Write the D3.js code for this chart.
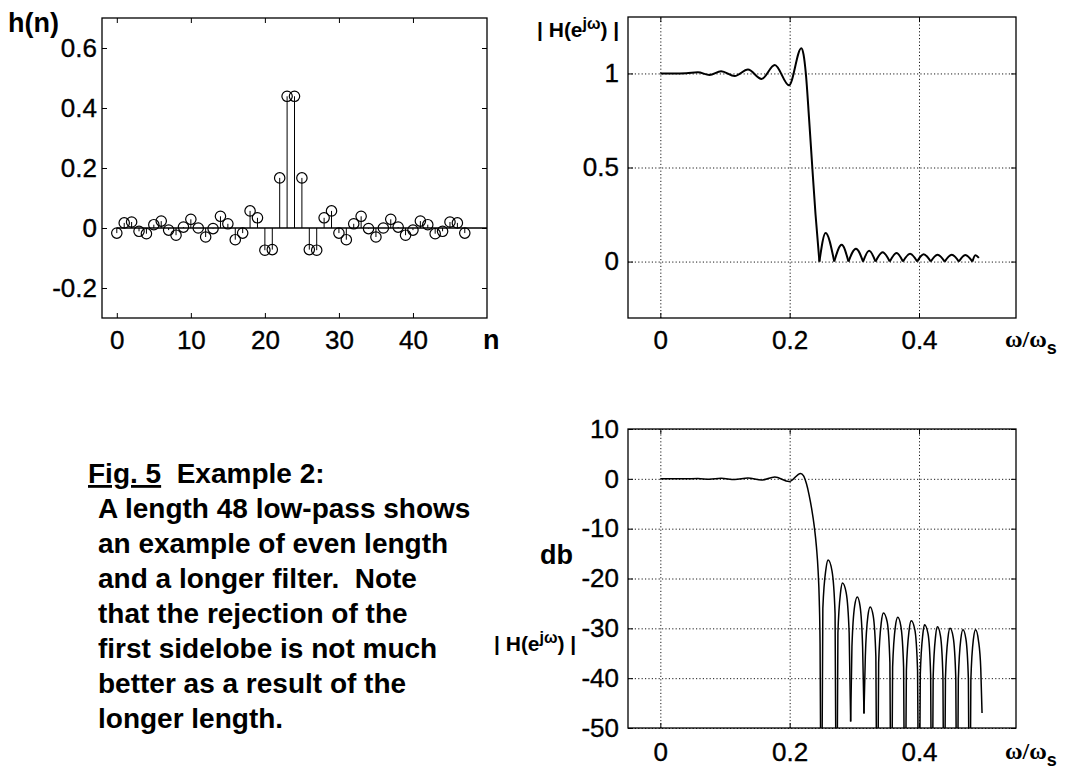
<!DOCTYPE html>
<html>
<head>
<meta charset="utf-8">
<script src="https://cdn.jsdelivr.net/npm/d3@7"></script>
<style>
  body { margin: 0; background: #fff; }
  text { white-space: pre; }
</style>
</head>
<body>
<svg id="fig" width="1070" height="771"></svg>
<script>
// ---- impulse response h(n) of the 48-tap low-pass ----
const nIndex = [0,1,2,3,4,5,6,7,8,9,10,11,12,13,14,15,16,17,18,19,20,21,22,23,
                24,25,26,27,28,29,30,31,32,33,34,35,36,37,38,39,40,41,42,43,44,45,46,47];
const hValues = [-0.017,0.017,0.020,-0.011,-0.019,0.011,0.023,-0.007,-0.024,0.003,0.029,0.000,
                 -0.030,-0.002,0.039,0.014,-0.039,-0.017,0.057,0.034,-0.074,-0.072,0.167,0.439,
                 0.439,0.167,-0.072,-0.074,0.034,0.057,-0.017,-0.039,0.014,0.039,-0.002,-0.030,
                 0.000,0.029,0.003,-0.024,-0.007,0.023,0.011,-0.019,-0.011,0.020,0.017,-0.017];
const hTicksX = [0,10,20,30,40];
const hTicksY = [-0.2,0,0.2,0.4,0.6];

// ---- magnitude response |H| (linear), nulls are exact zeros ----
const magOmega = [0,0.020,0.040,0.058,0.076,0.094,0.115,0.1355,0.1565,0.177,0.199,0.218,0.2215,0.225,0.230,0.235,0.240,0.2460,
                  0.2556,0.2689,0.2804,0.2909,0.3025,0.3135,0.3229,0.3328,0.3438,0.3548,0.3653,0.3752,0.3862,0.3972,
                  0.4072,0.4182,0.4287,0.4397,0.4507,0.4617,0.4716,0.4826,0.4871,0.4926];
const magValue = [1.000,1.000,1.001,1.006,0.992,1.012,0.986,1.021,0.971,1.045,0.937,1.134,1.100,1.000,0.760,0.500,0.250,0.000,
                  0.152,0.000,0.089,0.000,0.068,0.000,0.057,0.000,0.050,0.000,0.045,0.000,0.041,0.000,
                  0.039,0.000,0.036,0.000,0.036,0.000,0.035,0.000,0.034,0.020];
const magTicksX = [0,0.2,0.4];
const magTicksY = [0,0.5,1];

// ---- magnitude response in dB; -80 marks a null below the plotted range ----
const dbOmega = [0,0.020,0.040,0.058,0.076,0.094,0.115,0.1355,0.1565,0.177,0.199,0.217,0.2215,0.226,0.230,0.234,0.238,0.2415,0.2440,0.2458,0.2470,
                 0.2490,0.2513,0.2562,0.2595,0.2655,0.2702,
                 0.2725,0.2746,0.2788,0.2817,0.2873,0.2920,
                 0.2943,0.2963,0.3005,0.3046,0.3088,0.3128,
                 0.3149,0.3170,0.3210,0.3245,0.3292,0.3333,
                 0.3354,0.3376,0.3418,0.3450,0.3508,0.3550,
                 0.3571,0.3592,0.3635,0.3672,0.3720,0.3762,
                 0.3783,0.3805,0.3848,0.3880,0.3936,0.3978,
                 0.4000,0.4020,0.4060,0.4085,0.4140,0.4180,
                 0.4200,0.4219,0.4257,0.4285,0.4332,0.4370,
                 0.4389,0.4409,0.4449,0.4480,0.4529,0.4569,
                 0.4589,0.4608,0.4647,0.4680,0.4725,0.4764,
                 0.4783,0.4802,0.4842,0.4875,0.4920,0.4955,0.4975];
const dbValue = [0.00,0.00,0.01,0.05,-0.07,0.10,-0.12,0.18,-0.25,0.38,-0.56,1.09,0.60,-1.00,-3.20,-6.00,-9.50,-13.8,-18.5,-24.5,-33.0,
                 -80,-26.0,-18.0,-16.3,-18.5,-27.0,
                 -80,-31.0,-22.7,-20.9,-22.8,-31.0,
                 -48.7,-33.7,-25.5,-23.7,-25.5,-33.7,
                 -47.1,-35.7,-27.5,-25.7,-27.5,-35.7,
                 -80,-36.9,-28.7,-26.9,-28.7,-36.9,
                 -80,-37.8,-29.6,-27.8,-29.6,-37.8,
                 -80,-38.5,-30.3,-28.5,-30.3,-38.5,
                 -80,-39.3,-31.1,-29.3,-31.1,-39.3,
                 -80,-39.7,-31.5,-29.7,-31.5,-39.7,
                 -80,-40.0,-31.8,-30.0,-31.8,-40.0,
                 -80,-40.3,-32.1,-30.3,-32.1,-40.3,
                 -80,-40.3,-32.1,-30.3,-32.5,-38.0,-47.0];
const dbTicksX = [0,0.2,0.4];
const dbTicksY = [-50,-40,-30,-20,-10,0,10];

const bodyLines = ["A length 48 low-pass shows",
                   "an example of even length",
                   "and a longer filter.  Note",
                   "that the rejection of the",
                   "first sidelobe is not much",
                   "better as a result of the",
                   "longer length."];

const SANS = "'Liberation Sans', Arial, Helvetica, sans-serif";
const svg = d3.select("#fig");
const fmt = d => String(d);

// box with inward ticks on all four sides, optional dotted grid
function frame(x, y, tx, ty, grid, yPad, xPad) {
  const [x0, x1] = x.range(), [yb, yt] = y.range();
  const g = svg.append("g");
  if (grid) {
    const gg = g.append("g");
    gg.append("g").attr("transform", `translate(0,${yb})`)
      .call(d3.axisBottom(x).tickValues(tx).tickSize(-(yb - yt)).tickFormat(""));
    gg.append("g").attr("transform", `translate(${x0},0)`)
      .call(d3.axisLeft(y).tickValues(ty).tickSize(-(x1 - x0)).tickFormat(""));
    gg.selectAll(".domain").remove();
    gg.selectAll("line").attr("stroke", "#000").attr("stroke-width", 0.9)
      .attr("stroke-dasharray", "1.2,2.2");
  }
  const bottom = g.append("g").attr("transform", `translate(0,${yb})`)
    .call(d3.axisBottom(x).tickValues(tx).tickSizeInner(-5).tickSizeOuter(0).tickPadding(xPad).tickFormat(fmt));
  g.append("g").attr("transform", `translate(0,${yt})`)
    .call(d3.axisTop(x).tickValues(tx).tickSizeInner(-5).tickSizeOuter(0).tickFormat(""));
  const left = g.append("g").attr("transform", `translate(${x0},0)`)
    .call(d3.axisLeft(y).tickValues(ty).tickSizeInner(-5).tickSizeOuter(0).tickPadding(yPad).tickFormat(fmt));
  g.append("g").attr("transform", `translate(${x1},0)`)
    .call(d3.axisRight(y).tickValues(ty).tickSizeInner(-5).tickSizeOuter(0).tickFormat(""));
  g.selectAll(".domain").remove();
  g.selectAll(".tick line").attr("stroke", "#000");
  [bottom, left].forEach(a => a.selectAll("text")
    .attr("font-family", SANS).attr("font-size", 26).attr("fill", "#000")
    .attr("stroke", "#000").attr("stroke-width", 0.35));
  g.append("rect").attr("x", x0).attr("y", yt).attr("width", x1 - x0).attr("height", yb - yt)
    .attr("fill", "none").attr("stroke", "#000").attr("stroke-width", 1.3);
  return g;
}

// split a trace at its nulls so each lobe ends in a sharp cusp
function lobes(xs, ys, isNull) {
  const segs = [];
  let cur = [];
  xs.forEach((xv, i) => {
    cur.push([xv, ys[i]]);
    if (isNull(ys[i]) && cur.length > 1) { segs.push(cur); cur = [[xv, ys[i]]]; }
  });
  if (cur.length > 1) segs.push(cur);
  return segs;
}

// ---------- h(n) stem plot ----------
{
  const x = d3.scaleLinear([-2, 50], [102, 487]);
  const y = d3.scaleLinear([-0.3, 0.7], [318, 18]);
  frame(x, y, hTicksX, hTicksY, false, 5, 13);
  const g = svg.append("g");
  g.append("line").attr("x1", x(0)).attr("x2", x(50)).attr("y1", y(0)).attr("y2", y(0))
    .attr("stroke", "#000").attr("stroke-width", 1.3);
  g.selectAll("line.stem").data(nIndex).join("line").attr("class", "stem")
    .attr("x1", d => x(d)).attr("x2", d => x(d))
    .attr("y1", y(0)).attr("y2", (d, i) => y(hValues[i]))
    .attr("stroke", "#000").attr("stroke-width", 1);
  g.selectAll("circle").data(nIndex).join("circle")
    .attr("cx", d => x(d)).attr("cy", (d, i) => y(hValues[i])).attr("r", 5.2)
    .attr("fill", "none").attr("stroke", "#000").attr("stroke-width", 1.2);
  svg.append("text").attr("x", 8).attr("y", 32).text("h(n)")
    .attr("font-family", SANS).attr("font-weight", "bold").attr("font-size", 27);
  svg.append("text").attr("x", 483).attr("y", 349).text("n")
    .attr("font-family", SANS).attr("font-weight", "bold").attr("font-size", 27);
}

// |H(e^jw)| label built from tspans
function hLabel(xp, yp) {
  const t = svg.append("text").attr("x", xp).attr("y", yp)
    .attr("font-family", "'Liberation Sans Narrow', 'Liberation Sans', Arial, sans-serif")
    .attr("font-size", 21).attr("font-weight", "bold");
  t.append("tspan").text("| H(e");
  t.append("tspan").attr("dy", -8).attr("font-size", 16).text("jω");
  t.append("tspan").attr("dy", 8).text(") |");
}
// w/ws axis title
function wLabel(xp, yp) {
  const t = svg.append("text").attr("x", xp).attr("y", yp)
    .attr("font-family", "'Liberation Serif', 'Times New Roman', serif")
    .attr("font-size", 24).attr("font-weight", "bold");
  t.append("tspan").text("ω/ω");
  t.append("tspan").attr("dy", 7).attr("font-size", 18).attr("font-family", SANS).text("s");
}

// ---------- linear magnitude ----------
{
  const x = d3.scaleLinear([-0.05, 0.55], [628, 1016]);
  const y = d3.scaleLinear([-0.3, 1.3], [318, 17]);
  frame(x, y, magTicksX, magTicksY, true, 9, 13);
  const line = d3.line().x(d => x(d[0])).y(d => y(d[1])).curve(d3.curveMonotoneX);
  svg.append("g").selectAll("path").data(lobes(magOmega, magValue, v => v === 0)).join("path")
    .attr("d", line).attr("fill", "none").attr("stroke", "#000").attr("stroke-width", 2);
  hLabel(537, 37);
  wLabel(1005, 347);
}

// ---------- magnitude in dB ----------
{
  const x = d3.scaleLinear([-0.05, 0.55], [628, 1016]);
  const y = d3.scaleLinear([-50, 10], [728, 429]);
  frame(x, y, dbTicksX, dbTicksY, true, 9, 15);
  svg.append("clipPath").attr("id", "dbclip").append("rect")
    .attr("x", 628).attr("y", 429).attr("width", 388).attr("height", 299);
  const line = d3.line().x(d => x(d[0])).y(d => y(d[1])).curve(d3.curveMonotoneX);
  svg.append("g").attr("clip-path", "url(#dbclip)").selectAll("path")
    .data(lobes(dbOmega, dbValue, v => v <= -47)).join("path")
    .attr("d", line).attr("fill", "none").attr("stroke", "#000").attr("stroke-width", 1.5);
  svg.append("text").attr("x", 540).attr("y", 564).text("db")
    .attr("font-family", SANS).attr("font-weight", "bold").attr("font-size", 27);
  hLabel(494, 651);
  wLabel(1005, 759);
}

// ---------- caption ----------
{
  const cap = svg.append("text").attr("x", 88).attr("y", 483)
    .attr("font-family", SANS).attr("font-weight", "bold").attr("font-size", 28);
  cap.append("tspan").attr("text-decoration", "underline").text("Fig. 5");
  cap.append("tspan").text("  Example 2:");
  svg.append("g").selectAll("text").data(bodyLines).join("text")
    .attr("x", 98).attr("y", (d, i) => 518 + i * 35).text(d => d)
    .attr("font-family", SANS).attr("font-weight", "bold").attr("font-size", 28);
}
</script>
</body>
</html>
